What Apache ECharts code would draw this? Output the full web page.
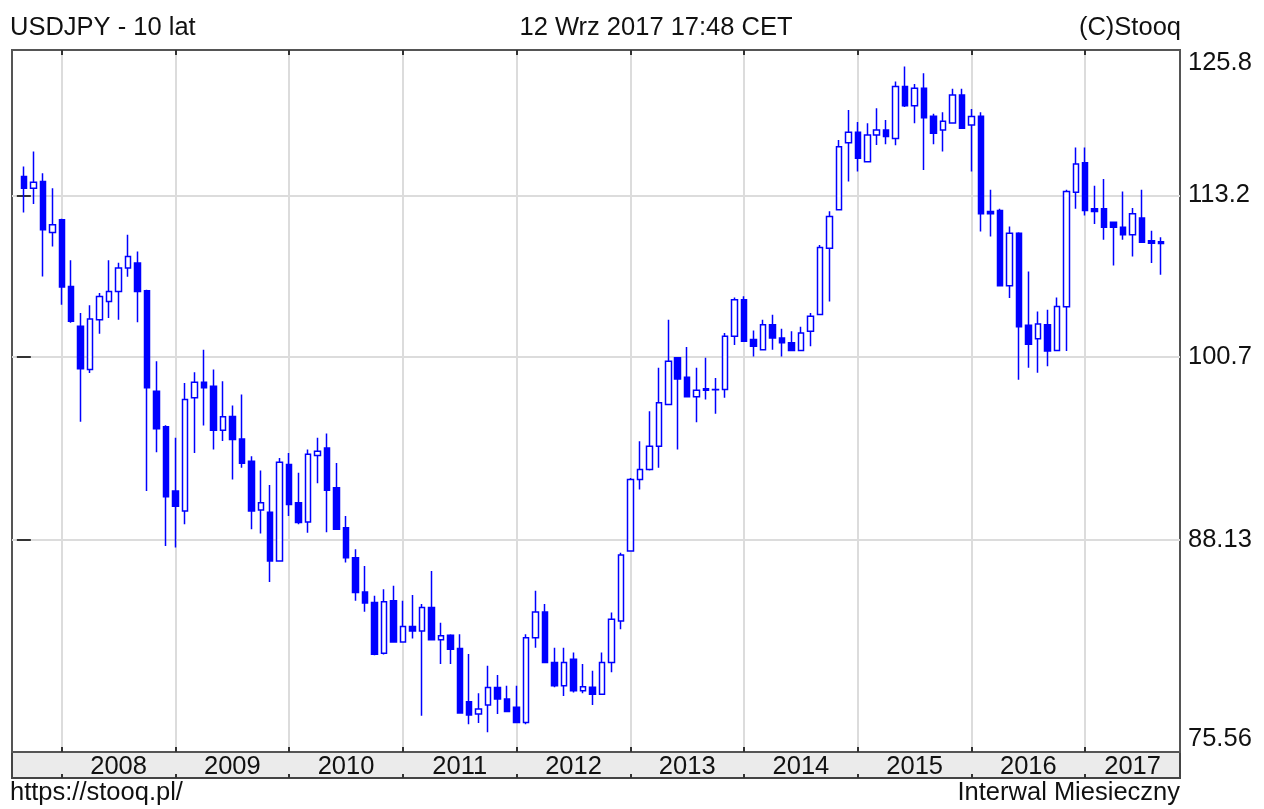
<!DOCTYPE html>
<html>
<head>
<meta charset="utf-8">
<script src="https://cdn.jsdelivr.net/npm/echarts@6/dist/echarts.min.js"></script>
<style>
  html, body { margin: 0; padding: 0; background: #ffffff; }
  #chart { width: 1264px; height: 809px; }
</style>
</head>
<body>
<div id="chart"></div>
<script>
// USDJPY, monthly candles from September 2007 to September 2017
const FIRST_YEAR = 2007;
const FIRST_MONTH = 9;

const OPEN = [114.75,113.79,114.34,110.18,111.21,105.95,102.93,99.75,103.43,104.81,
  105.57,107.38,107.77,105.63,98.19,95.69,91.32,90.01,97.72,98.83,
  98.55,95.45,96.40,94.85,93.33,90.07,89.93,86.80,93.10,90.55,
  89.30,93.71,94.23,91.54,88.93,87.00,84.87,84.23,81.18,84.33,
  81.85,82.77,82.50,83.92,81.97,82.25,81.46,78.37,77.68,78.18,
  79.19,78.52,78.05,77.20,82.10,83.65,80.64,79.28,80.83,78.99,
  79.20,78.80,80.64,83.10,87.43,92.10,92.77,94.35,97.25,100.60,
  99.20,97.80,98.36,98.31,98.31,102.19,104.94,101.94,101.20,103.05,
  102.06,101.70,101.13,102.56,103.81,108.94,112.02,117.60,118.50,116.00,
  118.27,118.71,117.98,122.50,120.80,122.36,119.90,118.71,119.30,121.75,
  119.14,119.90,111.88,111.96,106.00,110.13,103.00,102.00,103.05,101.13,
  104.40,113.45,115.90,112.10,112.10,111.00,110.60,110.00,111.36,109.52,
  109.45];

const CLOSE = [113.79,114.29,110.40,110.80,105.91,103.30,99.80,103.48,105.19,105.57,
  107.38,108.29,105.57,98.43,95.55,90.95,90.33,97.60,98.83,98.43,
  95.45,96.38,94.81,93.18,90.01,90.55,86.80,93.26,90.44,89.26,
  93.80,94.00,91.38,88.82,87.00,84.84,84.19,81.12,84.27,81.85,
  82.77,82.50,83.92,81.97,82.21,81.42,77.73,77.62,77.96,79.19,
  78.52,77.81,77.20,82.10,83.65,80.64,79.28,80.64,78.99,79.22,
  78.80,80.64,83.21,87.18,92.10,92.77,94.35,97.37,100.35,99.07,
  97.80,98.26,98.26,98.30,102.19,104.94,101.82,101.45,103.05,102.06,
  101.70,101.13,102.43,103.68,108.99,111.48,117.27,118.50,116.29,118.27,
  118.70,118.14,122.50,120.80,122.36,119.76,118.41,119.45,121.75,118.85,
  119.86,111.70,111.70,106.00,110.13,102.90,101.60,103.10,101.10,104.43,
  113.51,115.81,111.96,111.88,110.60,110.60,110.00,111.70,109.40,109.33,
  109.30];

const LOW = [111.79,112.50,106.73,109.07,104.56,103.20,96.03,99.50,102.38,103.56,
  103.43,106.70,103.23,91.32,93.94,87.75,87.65,89.15,93.89,95.77,
  94.12,94.70,92.10,92.88,88.82,88.56,85.49,86.80,89.68,89.15,
  88.60,91.84,88.64,88.78,86.70,84.33,83.66,81.06,81.10,81.80,
  81.80,82.05,77.58,81.95,80.54,80.54,77.70,77.10,77.17,76.65,
  77.68,77.80,77.15,77.10,81.50,80.60,79.20,78.70,78.90,78.86,
  78.18,78.80,80.06,82.61,87.40,91.43,92.70,92.88,97.20,94.12,
  97.80,96.00,97.60,96.60,97.72,101.55,101.80,100.70,101.20,101.20,
  100.70,101.10,101.10,101.45,103.80,104.81,112.00,114.34,115.17,116.00,
  117.42,117.48,117.40,120.70,119.28,115.30,117.48,116.86,119.30,118.80,
  115.17,110.26,109.87,105.95,105.07,99.02,99.87,99.51,99.99,101.10,
  101.10,112.10,111.55,110.86,109.60,107.58,109.60,108.29,109.40,107.77,
  106.86];

const HIGH = [115.59,116.86,115.03,113.79,111.30,107.98,103.93,104.51,105.45,107.98,
  107.80,110.00,108.68,105.70,100.35,95.80,94.93,98.78,99.56,101.20,
  99.75,98.90,97.17,97.95,93.66,92.70,91.72,93.55,93.89,92.55,
  94.12,94.93,95.22,93.20,89.69,87.54,86.49,84.64,85.04,85.25,
  84.33,84.68,84.13,86.17,83.00,82.30,82.30,81.13,78.86,80.44,
  79.90,79.28,79.28,82.30,84.94,84.13,81.50,81.50,81.22,80.54,
  80.15,81.22,83.62,87.33,92.20,94.68,96.77,99.87,103.43,100.60,
  101.40,99.87,100.60,99.14,102.43,105.10,105.20,102.62,103.43,103.80,
  102.75,102.56,102.90,103.93,109.20,111.89,117.85,120.44,119.40,119.29,
  120.59,119.57,122.95,124.30,122.74,123.70,120.10,120.24,122.30,122.30,
  120.53,120.24,113.65,112.10,110.67,110.20,107.10,104.05,104.18,105.10,
  113.65,117.20,117.20,114.00,114.56,111.05,113.51,112.17,113.65,110.32,
  109.80];

const YEAR_LABELS = ['2008','2009','2010','2011','2012','2013','2014','2015','2016','2017'];
const PRICE_TICKS = [75.56, 88.13, 100.7, 113.2, 125.8];

// month keys, e.g. "2007-09"
const MONTHS = OPEN.map(function (_, i) {
  const m = FIRST_MONTH - 1 + i;
  return (FIRST_YEAR + Math.floor(m / 12)) + '-' + String(m % 12 + 1).padStart(2, '0');
});

// layout
const W = 1264, H = 809;
const GRID = { left: 12, right: 84, top: 50, bottom: 57 };
const BAND_H = 26;
const X_MIN = -1.25, X_MAX = 122;
const FONT = 'Liberation Sans, Arial, sans-serif';
const FONT_SIZE = 25.5;
const TEXT = '#111111';
const BLUE = '#0000ff';

// January slots carry the year separators; year names sit between them
const janSlots = [];
MONTHS.forEach(function (m, i) { if (m.slice(5) === '01') janSlots.push(i); });
const yearSlots = janSlots.map(function (s, k) {
  const next = k + 1 < janSlots.length ? janSlots[k + 1] : X_MAX;
  return (s + next) / 2;
});
function yearAt(v) {
  let best = 0;
  yearSlots.forEach(function (p, k) { if (Math.abs(p - v) < Math.abs(yearSlots[best] - v)) best = k; });
  return YEAR_LABELS[best];
}
function priceLabel(v) {
  let best = PRICE_TICKS[0];
  PRICE_TICKS.forEach(function (p) { if (Math.abs(p - v) < Math.abs(best - v)) best = p; });
  return String(best);
}

const candles = MONTHS.map(function (_, i) {
  return [i, OPEN[i], CLOSE[i], LOW[i], HIGH[i]];
});

const innerPriceTicks = PRICE_TICKS.slice(1, -1);
const tickStyle = { color: '#333333', width: 2 };
const gridLine = { color: '#dcdcdc', width: 2 };

function xAxisBase(extra) {
  return Object.assign({
    type: 'value', min: X_MIN, max: X_MAX,
    axisLine: { show: false },
    axisLabel: { show: false },
    splitLine: { show: false },
    axisTick: { show: true, inside: true, length: 5, customValues: janSlots, lineStyle: tickStyle }
  }, extra);
}
function yAxisBase(extra) {
  return Object.assign({
    type: 'log', logBase: 10, min: PRICE_TICKS[0], max: PRICE_TICKS[PRICE_TICKS.length - 1],
    axisLine: { show: false },
    axisLabel: { show: false },
    splitLine: { show: false },
    axisTick: { show: true, inside: true, length: 7, customValues: innerPriceTicks, lineStyle: tickStyle }
  }, extra);
}

const plotW = W - GRID.left - GRID.right;
const plotBottom = H - GRID.bottom;

const chart = echarts.init(document.getElementById('chart'), null, { renderer: 'canvas' });
chart.setOption({
  animation: false,
  backgroundColor: '#ffffff',
  grid: {
    left: GRID.left, right: GRID.right, top: GRID.top, bottom: GRID.bottom,
    show: true, borderColor: '#555555', borderWidth: 2, backgroundColor: 'transparent'
  },
  xAxis: [
    xAxisBase({
      position: 'bottom',
      splitLine: { show: true, lineStyle: gridLine },
      axisLabel: {
        show: true, customValues: yearSlots, formatter: yearAt, margin: 2,
        color: TEXT, fontFamily: FONT, fontSize: FONT_SIZE
      }
    }),
    xAxisBase({ position: 'top' }),
    xAxisBase({ position: 'bottom', offset: BAND_H, axisTick: { show: true, inside: true, length: 4, customValues: janSlots, lineStyle: tickStyle } })
  ],
  yAxis: [
    yAxisBase({
      position: 'right',
      splitLine: { show: true, lineStyle: gridLine },
      axisLabel: {
        show: true, customValues: PRICE_TICKS, formatter: priceLabel, margin: 8,
        color: TEXT, fontFamily: FONT, fontSize: FONT_SIZE,
        verticalAlignMinLabel: 'bottom', verticalAlignMaxLabel: 'top'
      }
    }),
    yAxisBase({ position: 'left' })
  ],
  series: [{
    name: 'USDJPY',
    type: 'candlestick',
    xAxisIndex: 0,
    yAxisIndex: 0,
    data: candles,
    encode: { x: 0, y: [1, 2, 3, 4] },
    barWidth: 6,
    itemStyle: {
      color: '#ffffff',
      color0: BLUE,
      borderColor: BLUE,
      borderColor0: BLUE,
      borderColorDoji: BLUE,
      borderWidth: 1.5
    }
  }],
  graphic: [
    {
      type: 'rect', z: -1, silent: true,
      shape: { x: GRID.left, y: plotBottom, width: plotW, height: BAND_H },
      style: { fill: '#ebebeb', stroke: '#444444', lineWidth: 2 }
    },
    {
      type: 'text', x: 10, y: 28, silent: true,
      style: { text: 'USDJPY - 10 lat', fill: TEXT, font: FONT_SIZE + 'px ' + FONT, align: 'left', verticalAlign: 'middle', textAlign: 'left', textVerticalAlign: 'middle' }
    },
    {
      type: 'text', x: 656, y: 28, silent: true,
      style: { text: '12 Wrz 2017 17:48 CET', fill: TEXT, font: FONT_SIZE + 'px ' + FONT, align: 'center', verticalAlign: 'middle', textAlign: 'center', textVerticalAlign: 'middle' }
    },
    {
      type: 'text', x: W - GRID.right + 1, y: 28, silent: true,
      style: { text: '(C)Stooq', fill: TEXT, font: FONT_SIZE + 'px ' + FONT, align: 'right', verticalAlign: 'middle', textAlign: 'right', textVerticalAlign: 'middle' }
    },
    {
      type: 'text', x: 10, y: 793, silent: true,
      style: { text: 'https://stooq.pl/', fill: TEXT, font: FONT_SIZE + 'px ' + FONT, align: 'left', verticalAlign: 'middle', textAlign: 'left', textVerticalAlign: 'middle' }
    },
    {
      type: 'text', x: W - GRID.right, y: 793, silent: true,
      style: { text: 'Interwal Miesieczny', fill: TEXT, font: FONT_SIZE + 'px ' + FONT, align: 'right', verticalAlign: 'middle', textAlign: 'right', textVerticalAlign: 'middle' }
    }
  ]
});
</script>
</body>
</html>
